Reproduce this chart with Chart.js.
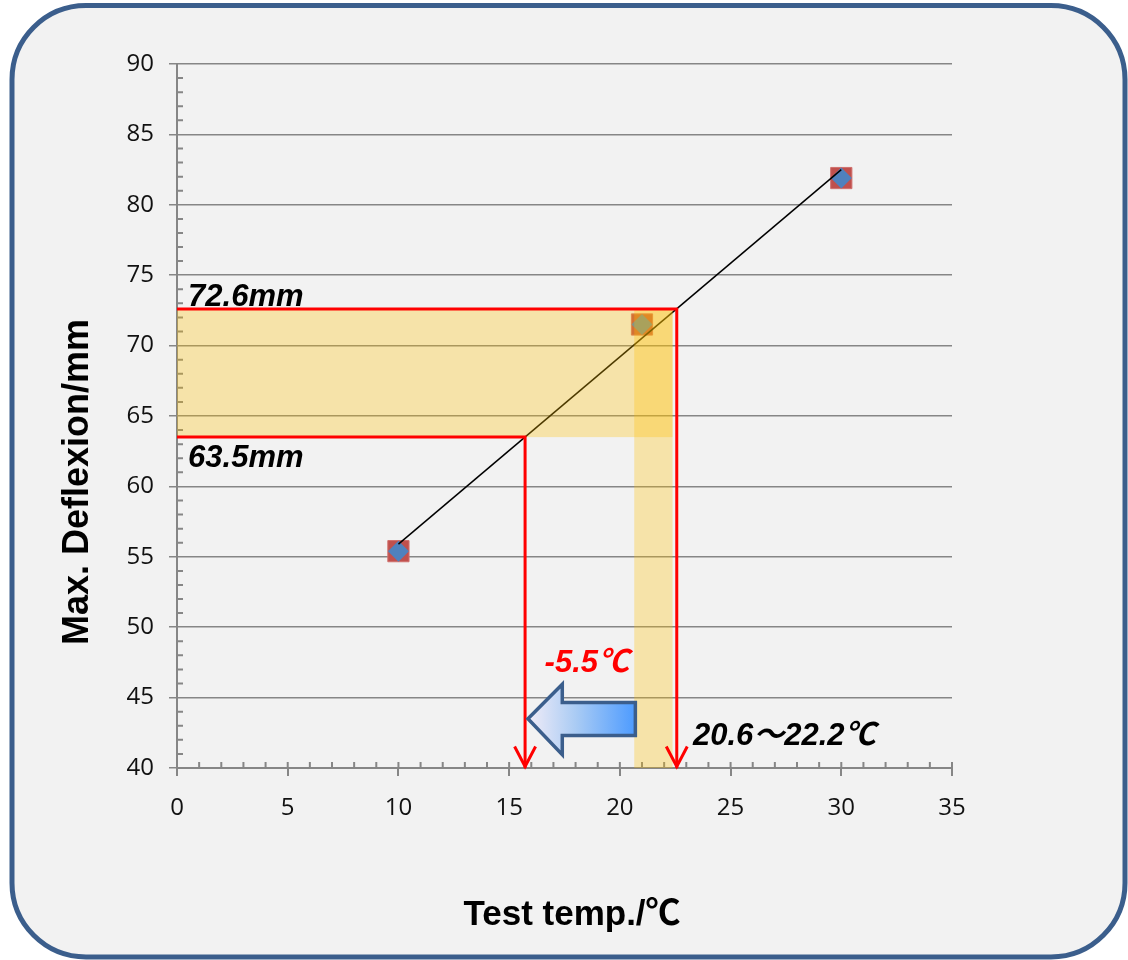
<!DOCTYPE html>
<html>
<head>
<meta charset="utf-8">
<script src="https://cdn.jsdelivr.net/npm/chart.js@4.4.1/dist/chart.umd.min.js"></script>
<style>
  html, body { margin: 0; padding: 0; background: #fff; }
  canvas { display: block; }
</style>
</head>
<body>
<canvas id="chart" width="1128" height="960"></canvas>
<script>
// measured points (temp / max deflexion)
const tempC = [10, 21, 30]
const deflexion = [55.4, 71.5, 81.9]
// linear trendline ends
const trendX = [10, 30]
const trendY = [55.9, 82.5]

const xMin = 0, xMax = 35, xStep = 5
const yMin = 40, yMax = 90, yStep = 5

// red leader lines, in axis units
const upperLeadX = [0, 22.57, 22.57]
const upperLeadY = [72.6, 72.6, 40]
const lowerLeadX = [0, 15.72, 15.72]
const lowerLeadY = [63.5, 63.5, 40]

// shaded bands [xFrom, xTo, yFrom, yTo]
const deflexionBand = [0, 22.38, 63.5, 72.6]
const tempBand = [20.65, 22.38, 40, 72.6]

// block arrow outline, in axis units
const shiftArrowX = [15.85, 17.4, 17.4, 20.7, 20.7, 17.4, 17.4]
const shiftArrowY = [43.5, 45.95, 44.65, 44.65, 42.3, 42.3, 40.95]

const xTitle = 'Test temp./℃'
const yTitle = 'Max. Deflexion/mm'

const notes = [
  { text: '72.6mm', x: 0.5, y: 72.8, color: '#000' },
  { text: '63.5mm', x: 0.5, y: 61.4, color: '#000' },
  { text: '-5.5℃', x: 16.6, y: 46.8, color: '#ff0000' },
  { text: '20.6～22.2℃', x: 23.3, y: 41.6, color: '#000' }
]

const AXIS_GREY = '#868686'
const noteFont = 'italic bold 31px "Liberation Sans", Arial, "Noto Sans CJK JP", sans-serif'
const titleFamily = '"Liberation Sans", Arial, "Noto Sans CJK JP", sans-serif'

const points = tempC.map((t, i) => ({ x: t, y: deflexion[i] }))

function roundRect(ctx, x, y, w, h, r){
    ctx.beginPath()
    ctx.moveTo(x + r, y)
    ctx.arcTo(x + w, y, x + w, y + h, r)
    ctx.arcTo(x + w, y + h, x, y + h, r)
    ctx.arcTo(x, y + h, x, y, r)
    ctx.arcTo(x, y, x + w, y, r)
    ctx.closePath()
}

const frame = {
    id: 'frame',
    beforeDraw(chart){
        const ctx = chart.ctx
        ctx.save()
        ctx.fillStyle = '#fff'
        ctx.fillRect(0, 0, chart.width, chart.height)
        roundRect(ctx, 12, 5.5, 1113, 951.5, 74)
        ctx.fillStyle = '#f2f2f2'
        ctx.fill()
        ctx.lineWidth = 5
        ctx.strokeStyle = '#3b5e8c'
        ctx.stroke()
        ctx.restore()
    }
}

const minorTicks = {
    id: 'minorTicks',
    beforeDatasetsDraw(chart){
        const {ctx, scales: {x, y}} = chart
        ctx.save()
        ctx.strokeStyle = AXIS_GREY
        ctx.lineWidth = 2
        ctx.beginPath()
        for(let v = xMin; v <= xMax; v++){
            const px = x.getPixelForValue(v)
            ctx.moveTo(px, y.bottom)
            ctx.lineTo(px, y.bottom - 6)
        }
        for(let v = yMin; v <= yMax; v++){
            if(v % yStep == 0) continue
            const py = y.getPixelForValue(v)
            ctx.moveTo(x.left, py)
            ctx.lineTo(x.left + 6, py)
        }
        ctx.stroke()
        ctx.restore()
    }
}

function leader(ctx, x, y, xs, ys){
    ctx.beginPath()
    for(let i = 0; i < xs.length; i++){
        const px = x.getPixelForValue(xs[i]), py = y.getPixelForValue(ys[i])
        if(i == 0) ctx.moveTo(px, py)
        else ctx.lineTo(px, py)
    }
    ctx.stroke()
    // open arrow head at the end
    const tx = x.getPixelForValue(xs[xs.length - 1])
    const ty = y.getPixelForValue(ys[ys.length - 1]) - 1.5
    ctx.beginPath()
    ctx.moveTo(tx - 10.5, ty - 20)
    ctx.lineTo(tx, ty)
    ctx.lineTo(tx + 10.5, ty - 20)
    ctx.stroke()
}

function band(ctx, x, y, b){
    const x0 = x.getPixelForValue(b[0]), x1 = x.getPixelForValue(b[1])
    const y0 = y.getPixelForValue(b[2]), y1 = y.getPixelForValue(b[3])
    ctx.fillRect(x0, y1, x1 - x0, y0 - y1)
}

const annotations = {
    id: 'annotations',
    afterDatasetsDraw(chart){
        const {ctx, scales: {x, y}} = chart
        ctx.save()
        ctx.fillStyle = 'rgba(255, 192, 0, 0.3)'
        band(ctx, x, y, deflexionBand)
        band(ctx, x, y, tempBand)

        ctx.strokeStyle = '#ff0000'
        ctx.lineWidth = 3
        ctx.lineJoin = 'miter'
        leader(ctx, x, y, upperLeadX, upperLeadY)
        leader(ctx, x, y, lowerLeadX, lowerLeadY)

        // blue block arrow
        ctx.beginPath()
        for(let i = 0; i < shiftArrowX.length; i++){
            const px = x.getPixelForValue(shiftArrowX[i]), py = y.getPixelForValue(shiftArrowY[i])
            if(i == 0) ctx.moveTo(px, py)
            else ctx.lineTo(px, py)
        }
        ctx.closePath()
        const gx0 = x.getPixelForValue(Math.min(...shiftArrowX))
        const gx1 = x.getPixelForValue(Math.max(...shiftArrowX))
        const grad = ctx.createLinearGradient(gx0, 0, gx1, 0)
        grad.addColorStop(0, '#f1ecf7')
        grad.addColorStop(0.45, '#a9cbf4')
        grad.addColorStop(1, '#4d9bff')
        ctx.fillStyle = grad
        ctx.fill()
        ctx.lineWidth = 3.5
        ctx.strokeStyle = '#3b5e8c'
        ctx.stroke()

        ctx.font = noteFont
        ctx.textAlign = 'left'
        ctx.textBaseline = 'alphabetic'
        for(const n of notes){
            ctx.fillStyle = n.color
            ctx.fillText(n.text, x.getPixelForValue(n.x), y.getPixelForValue(n.y))
        }
        ctx.restore()
    },
    afterDraw(chart){
        const ctx = chart.ctx
        ctx.save()
        ctx.fillStyle = '#000'
        ctx.textAlign = 'center'
        ctx.textBaseline = 'middle'
        ctx.font = 'bold 35px ' + titleFamily
        ctx.fillText(xTitle, 572, 915)
        ctx.translate(78, 482)
        ctx.rotate(-Math.PI / 2)
        ctx.font = 'bold 36px ' + titleFamily
        ctx.fillText(yTitle, 0, 0)
        ctx.restore()
    }
}

const tickFont = { family: '"Open Sans", "Noto Sans", sans-serif', size: 24 }

new Chart(document.getElementById('chart'), {
    type: 'scatter',
    data: {
        datasets: [
            {
                data: trendX.map((t, i) => ({ x: t, y: trendY[i] })),
                showLine: true,
                borderColor: '#000',
                borderWidth: 1.5,
                pointRadius: 0,
                order: 0
            },
            {
                data: points,
                pointStyle: 'rectRot',
                pointRadius: 10.5,
                backgroundColor: '#4f81bd',
                borderWidth: 0,
                order: 1
            },
            {
                data: points,
                pointStyle: 'rect',
                pointRadius: 15,
                backgroundColor: '#c0504d',
                borderColor: '#d0706d',
                borderWidth: 1,
                order: 2
            }
        ]
    },
    options: {
        responsive: false,
        animation: false,
        events: [],
        layout: { padding: { left: 40, top: 64, right: 176, bottom: 12 } },
        plugins: { legend: { display: false }, tooltip: { enabled: false } },
        scales: {
            x: {
                type: 'linear',
                min: xMin, max: xMax,
                afterFit: s => { s.height = 180 },
                ticks: { stepSize: xStep, font: tickFont, color: '#111', padding: 18 },
                grid: { drawOnChartArea: false, drawTicks: true, tickLength: 8, color: AXIS_GREY, lineWidth: 2 },
                border: { color: AXIS_GREY, width: 2 }
            },
            y: {
                min: yMin, max: yMax,
                afterFit: s => { s.width = 137 },
                ticks: { stepSize: yStep, font: tickFont, color: '#111', padding: 15 },
                grid: { color: AXIS_GREY, lineWidth: 1.5, tickLength: 8 },
                border: { color: AXIS_GREY, width: 2 }
            }
        }
    },
    plugins: [frame, minorTicks, annotations]
})
</script>
</body>
</html>
